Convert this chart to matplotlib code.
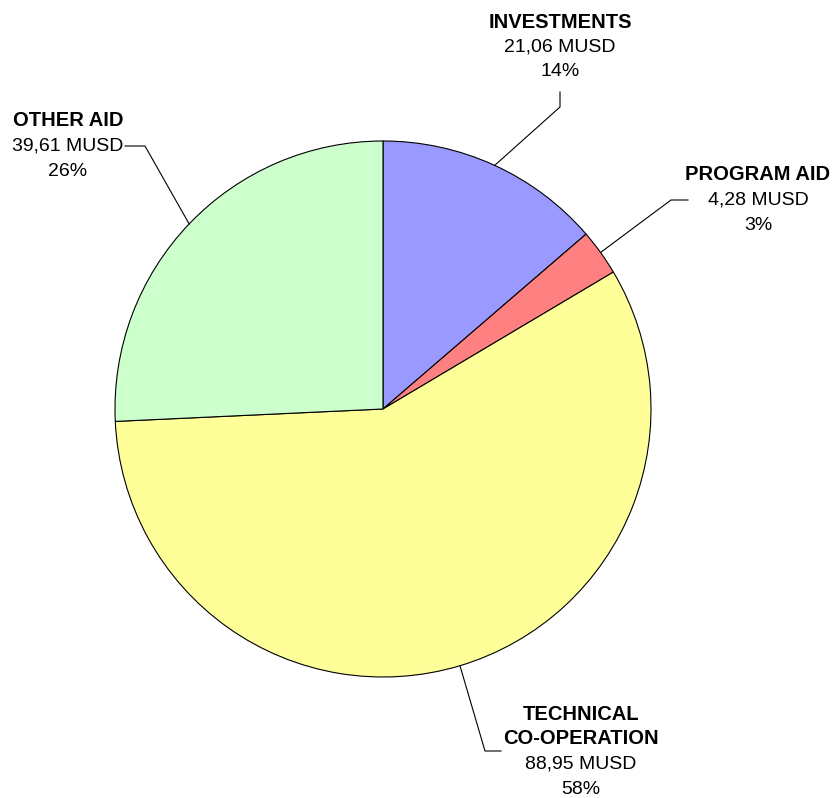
import matplotlib.pyplot as plt
import numpy as np

plt.rcParams['font.family'] = ['Liberation Sans', 'DejaVu Sans']

# aid categories and amounts (MUSD)
categories = ['INVESTMENTS', 'PROGRAM AID', 'TECHNICAL\nCO-OPERATION', 'OTHER AID']
amounts = [21.06, 4.28, 88.95, 39.61]
colors = ['#9999FF', '#FF8080', '#FFFF99', '#CCFFCC']

W, H = 833, 798
fig = plt.figure(figsize=(W / 100, H / 100), dpi=100)
ax = fig.add_axes([0, 0, 1, 1])

cx, cy, r = 383, H - 409, 268
wedges, _ = ax.pie(amounts, colors=colors, startangle=90, counterclock=False,
                   center=(cx, cy), radius=r, frame=True,
                   wedgeprops=dict(edgecolor='black', linewidth=0.8))
ax.set_xlim(0, W)
ax.set_ylim(0, H)
ax.set_aspect('equal')
ax.axis('off')

total = sum(amounts)

# label block centre (x, y of first line) and leader line elbow points (pixel rows from top)
label_pos = [(560, 22), (758, 175), (581, 714), (68, 121)]
elbows = [[(560, 107), (560, 92)],
          [(671, 200), (688, 200)],
          [(485, 751), (501, 751)],
          [(145, 146), (125, 146)]]

fs = 14
fs_bold = 14.5
step = 25
for w, name, amt, (lx, ly), elb in zip(wedges, categories, amounts, label_pos, elbows):
    mid = np.deg2rad((w.theta1 + w.theta2) / 2)
    px = cx + r * np.cos(mid)
    py = cy + r * np.sin(mid)
    xs = [px] + [e[0] for e in elb]
    ys = [py] + [H - e[1] for e in elb]
    ax.plot(xs, ys, color='black', lw=0.8)

    y = ly
    for ln in name.split('\n'):
        ax.text(lx, H - y, ln, ha='center', va='center', fontsize=fs_bold, fontweight='bold')
        y += step
    ax.text(lx, H - y, f'{amt:.2f}'.replace('.', ',') + ' MUSD',
            ha='center', va='center', fontsize=fs)
    y += step
    ax.text(lx, H - y, f'{amt / total * 100:.0f}%', ha='center', va='center', fontsize=fs)

fig.savefig('out.png', dpi=100)
